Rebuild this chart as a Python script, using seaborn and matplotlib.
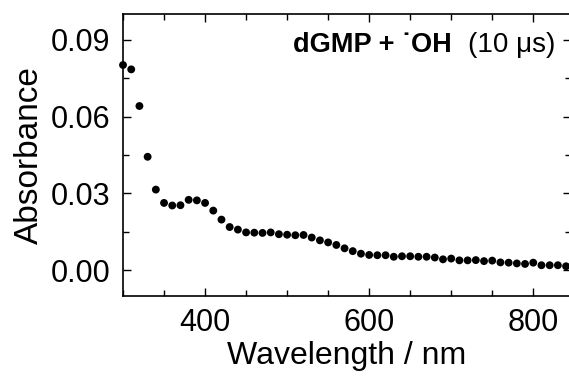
import numpy as np
import pandas as pd
import matplotlib
matplotlib.use("Agg")
import matplotlib.pyplot as plt
from matplotlib.ticker import MultipleLocator, FormatStrFormatter
import seaborn as sns

# wavelength (nm) and absorbance, 10 us after pulse
wavelength = list(range(300, 850, 10))
absorbance = [0.0801, 0.0784, 0.0641, 0.0443, 0.0315, 0.0263, 0.0253, 0.0254, 0.0275, 0.0273,
              0.0263, 0.0233, 0.0198, 0.0169, 0.0159, 0.0148, 0.0147, 0.0146, 0.0148, 0.0141,
              0.0139, 0.0137, 0.0138, 0.0128, 0.0117, 0.0109, 0.0099, 0.0086, 0.0075, 0.0065,
              0.0060, 0.0059, 0.0059, 0.0053, 0.0055, 0.0055, 0.0053, 0.0053, 0.0050, 0.0043,
              0.0046, 0.0039, 0.0039, 0.0040, 0.0036, 0.0038, 0.0031, 0.0030, 0.0027, 0.0025,
              0.0030, 0.0020, 0.0020, 0.0020, 0.0016]

df = pd.DataFrame({'Wavelength': wavelength, 'Absorbance': absorbance})

sns.set_style("ticks")
plt.rcParams['font.family'] = ['Liberation Sans', 'DejaVu Sans']
plt.rcParams['xtick.direction'] = 'in'
plt.rcParams['ytick.direction'] = 'in'
plt.rcParams['text.color'] = 'black'
plt.rcParams['axes.labelcolor'] = 'black'

fig = plt.figure(figsize=(5.69, 3.76), dpi=100)
ax = fig.add_axes([0.2162, 0.2128, 0.7873, 0.75])

sns.scatterplot(data=df, x='Wavelength', y='Absorbance', ax=ax, color='black',
                s=32, edgecolor='none', clip_on=False, zorder=3)

ax.set_xlim(300, 846)
ax.set_ylim(-0.01, 0.1)
ax.xaxis.set_major_locator(MultipleLocator(200))
ax.xaxis.set_minor_locator(MultipleLocator(50))
ax.yaxis.set_major_locator(MultipleLocator(0.03))
ax.yaxis.set_minor_locator(MultipleLocator(0.015))
ax.yaxis.set_major_formatter(FormatStrFormatter('%.2f'))
ax.tick_params(which='both', top=True, right=True, labelsize=22, colors='black', width=1.0)
ax.tick_params(which='major', length=6)
ax.tick_params(which='minor', length=4)
ax.tick_params(axis='x', which='major', pad=9)
ax.tick_params(axis='y', which='major', pad=9)
for sp in ax.spines.values():
    sp.set_linewidth(1.2)
    sp.set_color('black')

ax.set_xlabel('Wavelength / nm', fontsize=23, labelpad=2)
ax.set_ylabel('Absorbance', fontsize=24, labelpad=4)

fig.text(452 / 569, 1 - 52 / 376, 'dGMP + \u02d9OH', fontsize=19.5, fontweight='bold',
         ha='right', va='baseline')
fig.text(555 / 569, 1 - 52 / 376, '(10 \u03bcs)', fontsize=20, ha='right', va='baseline')

fig.savefig('out.png', dpi=100)
